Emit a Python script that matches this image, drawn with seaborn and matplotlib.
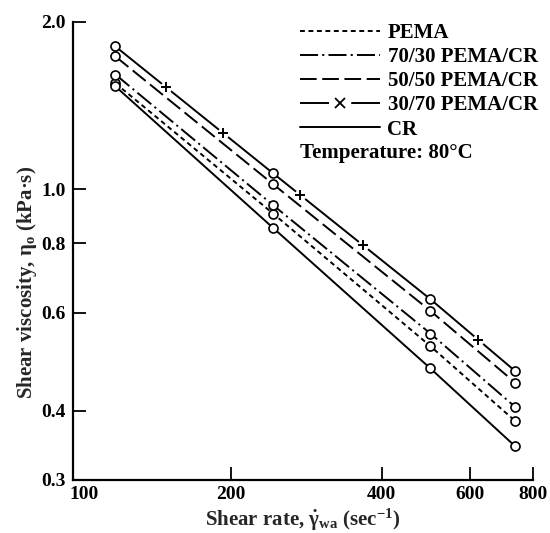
import numpy as np
import pandas as pd
import matplotlib
matplotlib.use("Agg")
import matplotlib.pyplot as plt
import matplotlib.transforms as mtransforms
from matplotlib.lines import Line2D
from matplotlib.ticker import FixedLocator, FixedFormatter, NullLocator
import seaborn as sns

# Shear rate (1/s) and shear viscosity (kPa·s) at 80 °C
shear_rate = [118, 243, 500, 737]
pema = [1.55, 0.904, 0.522, 0.383]
pema_cr_70_30 = [1.607, 0.936, 0.550, 0.406]
pema_cr_50_50 = [1.732, 1.021, 0.604, 0.449]
pema_cr_30_70 = [1.805, 1.068, 0.634, 0.471]
cr = [1.53, 0.852, 0.476, 0.345]

series_names = ["PEMA", "70/30 PEMA/CR", "50/50 PEMA/CR", "30/70 PEMA/CR", "CR"]
series_values = [pema, pema_cr_70_30, pema_cr_50_50, pema_cr_30_70, cr]

x_ticks = [100, 200, 400, 600, 800]
x_tick_labels = ["100", "200", "400", "600", "800"]
y_ticks = [0.3, 0.4, 0.6, 0.8, 1.0, 2.0]
y_tick_labels = ["0.3", "0.4", "0.6", "0.8", "1.0", "2.0"]

sns.set_theme(style="ticks")
plt.rcParams.update({
    "font.family": ["Liberation Serif", "DejaVu Serif"],
    "font.weight": "bold",
    "axes.labelweight": "bold",
    "mathtext.fontset": "custom",
    "mathtext.rm": "Liberation Serif:bold",
    "mathtext.it": "Liberation Serif:italic:bold",
    "mathtext.bf": "Liberation Serif:bold",
    "lines.scale_dashes": False,
    "axes.edgecolor": "black",
    "text.color": "black",
    "xtick.color": "black",
    "ytick.color": "black",
})

line_styles = {
    "PEMA": (0, (3.5, 2.6)),
    "70/30 PEMA/CR": (0, (13, 3, 1.5, 3)),
    "50/50 PEMA/CR": (0, (12, 4)),
    "30/70 PEMA/CR": "-",
    "CR": "-",
}
LW = 1.4

df = pd.DataFrame({
    "shear_rate": np.tile(shear_rate, len(series_names)),
    "viscosity": np.concatenate(series_values),
    "blend": np.repeat(series_names, len(shear_rate)),
})

fig = plt.figure(figsize=(5.5, 5.33), dpi=100)
ax = fig.add_axes([72.7 / 550, 1 - 480 / 533, (533 - 72.7) / 550, (480 - 21.7) / 533])
ax.set_xscale("log")
ax.set_yscale("log")

for name in series_names:
    sub = df[df["blend"] == name]
    sns.lineplot(data=sub, x="shear_rate", y="viscosity", ax=ax, color="black",
                 linewidth=LW, linestyle=line_styles[name], marker="o",
                 markersize=6.5, markerfacecolor="white", mec="black", mew=1.2,
                 sort=False, estimator=None, legend=False, zorder=3)

# Cross decorations breaking the 30/70 line, placed at fractions of each segment
cross_spots = [(0, 0.32), (0, 0.68), (1, 0.174), (1, 0.572), (2, 0.567)]
lx = np.log10(shear_rate)
ly = np.log10(pema_cr_30_70)
cx = [10 ** (lx[i] + f * (lx[i + 1] - lx[i])) for i, f in cross_spots]
cy = [10 ** (ly[i] + f * (ly[i + 1] - ly[i])) for i, f in cross_spots]
ax.plot(cx, cy, ls="none", marker="o", ms=8.5, mfc="white", mec="none", zorder=4)
ax.plot(cx, cy, ls="none", marker="+", ms=6.5, mew=1.4, color="black", zorder=5)

ax.set_xlim(97, 800)
ax.set_ylim(0.3, 2.0)

ax.xaxis.set_major_locator(FixedLocator(x_ticks))
ax.xaxis.set_major_formatter(FixedFormatter(x_tick_labels))
ax.xaxis.set_minor_locator(NullLocator())
ax.yaxis.set_major_locator(FixedLocator(y_ticks))
ax.yaxis.set_major_formatter(FixedFormatter(y_tick_labels))
ax.yaxis.set_minor_locator(NullLocator())
ax.tick_params(axis="both", which="major", direction="in", length=9.5, width=1.3,
               labelsize=14)
ax.tick_params(axis="x", pad=4)
ax.tick_params(axis="y", pad=5)
first_tick = ax.xaxis.get_major_ticks()[0]
first_tick.tick1line.set_visible(False)
first_tick.label1.set_transform(first_tick.label1.get_transform()
                                + mtransforms.ScaledTranslation(5 / 100, 0, fig.dpi_scale_trans))
for lab in ax.get_xticklabels() + ax.get_yticklabels():
    lab.set_fontweight("bold")

for side in ("top", "right"):
    ax.spines[side].set_visible(False)
for side in ("left", "bottom"):
    ax.spines[side].set_linewidth(1.6)

ax.set_xlabel(r"Shear rate, $\dot{\mathrm{γ}}_{\mathrm{wa}}$ (sec$^{\mathrm{-1}}$)", fontsize=15)
ax.set_ylabel(r"Shear viscosity, $\mathrm{η}_{\mathrm{o}}$ (kPa·s)", fontsize=15)
ax.xaxis.set_label_coords(0.5, -0.087)
ax.xaxis.label.set_va("center")
ax.yaxis.set_label_coords(-0.1, 0.43)
ax.yaxis.label.set_va("center")

# Legend keys; the 30/70 key is a solid line broken around a centred cross
handles = []
for name in series_names:
    if name == "30/70 PEMA/CR":
        handles.append(Line2D([], [], color="black", lw=LW, ls=(0, (20.9, 16, 20.9, 16)),
                              marker="x", ms=6.5, mew=1.3))
    else:
        handles.append(Line2D([], [], color="black", lw=LW, ls=line_styles[name]))

fig.legend(handles, series_names, loc="upper left",
           bbox_to_anchor=(300 / 550, 1 - 23 / 533), frameon=False,
           prop={"family": "Liberation Serif", "weight": "bold", "size": 15},
           handlelength=3.85, handletextpad=0.35, labelspacing=0.2,
           borderpad=0, borderaxespad=0, numpoints=1)

fig.text(300 / 550, 1 - 153 / 533, "Temperature: 80°C", fontsize=15,
         fontweight="bold", va="center", ha="left")

fig.savefig("out.png", dpi=100)
